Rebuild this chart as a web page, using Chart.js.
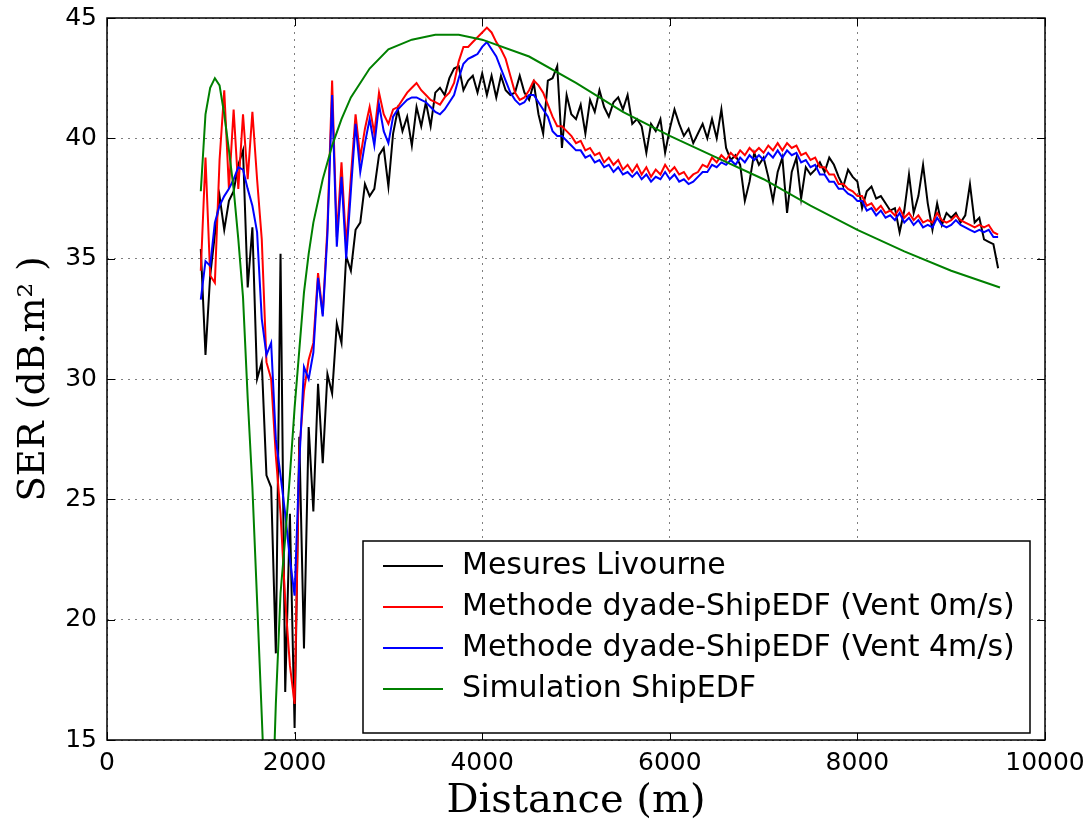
<!DOCTYPE html>
<html>
<head>
<meta charset="utf-8">
<title>SER vs Distance</title>
<script src="https://cdn.jsdelivr.net/npm/chart.js@4.4.0/dist/chart.umd.min.js"></script>
<style>
  html, body { margin: 0; padding: 0; background: #fff; }
</style>
</head>
<body>
<canvas id="serChart" width="1088" height="827"></canvas>
<script>
// distances (m) of the measured / computed series, every 50 m
var distances = [
  1000, 1050, 1100, 1150, 1200, 1250, 1300, 1350, 1400, 1450,
  1500, 1550, 1600, 1650, 1700, 1750, 1800, 1850, 1900, 1950,
  2000, 2050, 2100, 2150, 2200, 2250, 2300, 2350, 2400, 2450,
  2500, 2550, 2600, 2650, 2700, 2750, 2800, 2850, 2900, 2950,
  3000, 3050, 3100, 3150, 3200, 3250, 3300, 3350, 3400, 3450,
  3500, 3550, 3600, 3650, 3700, 3750, 3800, 3850, 3900, 3950,
  4000, 4050, 4100, 4150, 4200, 4250, 4300, 4350, 4400, 4450,
  4500, 4550, 4600, 4650, 4700, 4750, 4800, 4850, 4900, 4950,
  5000, 5050, 5100, 5150, 5200, 5250, 5300, 5350, 5400, 5450,
  5500, 5550, 5600, 5650, 5700, 5750, 5800, 5850, 5900, 5950,
  6000, 6050, 6100, 6150, 6200, 6250, 6300, 6350, 6400, 6450,
  6500, 6550, 6600, 6650, 6700, 6750, 6800, 6850, 6900, 6950,
  7000, 7050, 7100, 7150, 7200, 7250, 7300, 7350, 7400, 7450,
  7500, 7550, 7600, 7650, 7700, 7750, 7800, 7850, 7900, 7950,
  8000, 8050, 8100, 8150, 8200, 8250, 8300, 8350, 8400, 8450,
  8500, 8550, 8600, 8650, 8700, 8750, 8800, 8850, 8900, 8950,
  9000, 9050, 9100, 9150, 9200, 9250, 9300, 9350, 9400, 9450,
  9500
];

// Mesures Livourne (dB.m2)
var mesures = [
  35.4, 31.0, 34.3, 36.0, 37.6, 36.2, 37.4, 37.8, 38.9, 39.5,
  33.8, 36.3, 30.0, 30.7, 26.0, 25.5, 18.6, 35.2, 17.0, 24.4,
  15.5, 27.6, 18.8, 28.0, 24.5, 29.8, 26.5, 30.2, 29.4, 32.3,
  31.5, 35.1, 34.5, 36.2, 36.5, 38.1, 37.6, 37.9, 39.3, 39.6,
  38.0, 40.2, 41.2, 40.3, 40.9, 39.7, 41.3, 40.5, 41.5, 40.5,
  41.9, 42.1, 41.8, 42.5, 42.9, 43.0, 42.0, 42.4, 42.6, 41.9,
  42.7, 41.8, 42.6, 41.7, 42.6, 42.0, 41.8, 41.9, 42.6, 41.9,
  41.6, 42.3, 41.0, 40.2, 42.4, 42.5, 43.0, 39.6, 41.8, 41.0,
  40.8, 41.4, 40.2, 41.6, 41.1, 42.0, 41.3, 40.9, 41.5, 41.7,
  41.2, 41.8, 40.6, 40.8, 40.5, 39.4, 40.6, 40.3, 40.8, 39.4,
  40.4, 41.2, 40.6, 40.1, 40.4, 39.8, 40.2, 40.6, 40.0, 40.8,
  40.0, 41.2, 39.6, 39.1, 39.3, 38.9, 37.4, 38.2, 39.4, 38.9,
  39.2, 38.4, 37.4, 38.6, 39.2, 36.9, 38.6, 39.2, 37.5, 38.8,
  38.5, 38.7, 39.0, 38.6, 39.2, 38.9, 38.4, 38.0, 38.7, 38.4,
  38.2, 37.1, 37.8, 38.0, 37.5, 37.6, 37.3, 37.0, 37.1, 36.1,
  37.0, 38.5, 36.9, 37.6, 38.9, 37.3, 36.2, 37.3, 36.4, 36.9,
  36.7, 36.9, 36.5, 36.8, 38.1, 36.5, 36.7, 35.8, 35.7, 35.6,
  34.6
];

// Methode dyade-ShipEDF (Vent 0m/s)
var vent0 = [
  34.5, 39.2, 34.3, 34.0, 39.1, 42.0, 37.9, 41.2, 37.9, 41.0,
  38.3, 41.1, 38.3, 35.8, 30.7, 30.0, 26.8, 24.4, 20.8, 18.1,
  16.5, 27.0, 29.5, 30.8, 31.5, 34.4, 32.7, 36.3, 42.4, 35.9,
  39.0, 35.5, 38.4, 41.0, 39.2, 40.4, 41.3, 40.2, 41.9, 41.0,
  40.6, 41.2, 41.3, 41.6, 41.9, 42.1, 42.3, 42.0, 41.8, 41.6,
  41.5, 41.4, 41.7, 41.9, 42.3, 43.2, 43.8, 43.8, 44.0, 44.2,
  44.4, 44.6, 44.4, 44.0, 43.7, 43.3, 42.6, 41.9, 41.6, 41.7,
  42.0, 42.4, 42.2, 41.9, 41.4, 40.9, 40.5, 40.5, 40.3, 40.1,
  39.8, 39.9, 39.5, 39.6, 39.3, 39.4, 39.0, 39.2, 38.9, 39.1,
  38.7, 38.9, 38.6, 38.9, 38.5, 38.8, 38.4, 38.7, 38.5, 38.9,
  38.6, 38.8, 38.5, 38.6, 38.3, 38.5, 38.6, 38.9, 38.8, 39.2,
  39.0, 39.3, 39.1, 39.4, 39.2, 39.5, 39.3, 39.6, 39.4, 39.6,
  39.4, 39.7, 39.5, 39.8, 39.5, 39.8, 39.6, 39.7, 39.3, 39.4,
  39.1, 39.2, 38.8, 38.8, 38.5, 38.5, 38.1, 38.1, 37.9, 37.8,
  37.6, 37.6, 37.2, 37.3, 37.0, 37.2, 36.9, 37.0, 36.8, 37.1,
  36.7, 36.9, 36.6, 36.8, 36.5, 36.6, 36.5, 36.9, 36.6, 36.5,
  36.6, 36.8, 36.6, 36.5, 36.4, 36.3, 36.4, 36.3, 36.4, 36.1,
  36.0
];

// Methode dyade-ShipEDF (Vent 4m/s)
var vent4 = [
  33.3, 34.9, 34.7, 36.5, 37.2, 37.6, 37.9, 38.3, 38.8, 38.7,
  37.9, 37.2, 36.1, 32.5, 31.0, 31.5, 27.5, 26.0, 24.4, 22.5,
  21.0, 26.5, 30.5, 30.0, 31.1, 34.2, 32.6, 36.0, 41.8, 35.5,
  38.4, 35.0, 37.8, 40.6, 38.6, 39.8, 40.8, 39.7, 41.4, 40.3,
  39.8, 40.9, 41.2, 41.4, 41.6, 41.7, 41.7, 41.6, 41.5, 41.3,
  41.1, 41.0, 41.2, 41.5, 41.8, 42.5, 43.1, 43.3, 43.4, 43.5,
  43.8, 44.0, 43.7, 43.4, 42.9, 42.4, 41.9, 41.6, 41.4, 41.5,
  41.8, 41.8, 41.5, 41.2, 40.9, 40.3, 40.1, 40.1, 39.9, 39.7,
  39.5, 39.5, 39.2, 39.3, 39.0, 39.1, 38.8, 38.9, 38.6, 38.8,
  38.5, 38.6, 38.4, 38.6, 38.3, 38.5, 38.2, 38.4, 38.3, 38.6,
  38.3, 38.5, 38.2, 38.3, 38.1, 38.2, 38.4, 38.6, 38.6, 38.9,
  38.8, 39.0, 38.9, 39.1, 38.9, 39.2, 39.0, 39.3, 39.1, 39.3,
  39.1, 39.4, 39.2, 39.5, 39.2, 39.5, 39.3, 39.4, 39.0, 39.1,
  38.8, 38.9, 38.5, 38.5, 38.2, 38.2, 37.9, 37.9, 37.7, 37.6,
  37.4, 37.4, 37.0, 37.1, 36.8, 37.0, 36.7, 36.8, 36.6, 36.9,
  36.5, 36.7, 36.4, 36.6, 36.3, 36.4, 36.3, 36.7, 36.4, 36.3,
  36.4, 36.6, 36.4, 36.3, 36.2, 36.1, 36.2, 36.1, 36.2, 35.9,
  35.9
];

// Simulation ShipEDF (smooth curve, own sampling)
var simDistances = [
  1000, 1050, 1100, 1150, 1200, 1250, 1300, 1350, 1400, 1450,
  1500, 1550, 1600, 1650, 1700, 1725, 1750, 1775, 1800, 1850,
  1900, 1950, 2000, 2050, 2100, 2150, 2200, 2300, 2400, 2500,
  2600, 2800, 3000, 3250, 3500, 3750, 4000, 4500, 5000, 5500,
  6000, 6500, 7000, 7500, 8000, 8500, 9000, 9520
];
var simulation = [
  37.8, 41.0, 42.1, 42.5, 42.2, 41.0, 39.5, 37.9, 35.8, 33.4,
  29.2, 25.5, 20.8, 16.0, 11.0, 9.0, 10.5, 13.5, 16.5, 21.1,
  23.4, 26.0, 28.8, 31.2, 33.6, 35.2, 36.5, 38.3, 39.7, 40.8,
  41.7, 42.9, 43.7, 44.1, 44.3, 44.3, 44.1, 43.4, 42.3, 41.1,
  40.1, 39.2, 38.3, 37.2, 36.2, 35.3, 34.5, 33.8
];

var seriesLabels = [
  "Mesures Livourne",
  "Methode dyade-ShipEDF (Vent 0m/s)",
  "Methode dyade-ShipEDF (Vent 4m/s)",
  "Simulation ShipEDF",
];

var xTicks = [0, 2000, 4000, 6000, 8000, 10000];
var yTicks = [15, 20, 25, 30, 35, 40, 45];

function toPoints(xs, ys) {
  return ys.map(function (v, i) {
    return { x: xs[i], y: v };
  });
}

// cadre noir + petites graduations vers l'intérieur + légende en bas à droite
var framePlugin = {
  id: "frameAndLegend",
  afterDatasetsDraw: function (chart) {
    var ctx = chart.ctx;
    var area = chart.chartArea;
    var xs = chart.scales.x;
    var ys = chart.scales.y;
    ctx.save();

    ctx.strokeStyle = "#000";
    ctx.lineWidth = 1;
    xTicks.forEach(function (t) {
      var px = Math.round(xs.getPixelForValue(t)) + 0.5;
      ctx.beginPath();
      ctx.moveTo(px, area.bottom);
      ctx.lineTo(px, area.bottom - 8);
      ctx.moveTo(px, area.top);
      ctx.lineTo(px, area.top + 8);
      ctx.stroke();
    });
    yTicks.forEach(function (t) {
      var py = Math.round(ys.getPixelForValue(t)) + 0.5;
      ctx.beginPath();
      ctx.moveTo(area.left, py);
      ctx.lineTo(area.left + 8, py);
      ctx.moveTo(area.right, py);
      ctx.lineTo(area.right - 8, py);
      ctx.stroke();
    });

    ctx.lineWidth = 1.5;
    ctx.strokeRect(area.left, area.top, area.right - area.left, area.bottom - area.top);

    // légende
    var boxRight = area.right - 15;
    var boxBottom = area.bottom - 7;
    var boxW = 667;
    var boxH = 192;
    var boxLeft = boxRight - boxW;
    var boxTop = boxBottom - boxH;
    ctx.fillStyle = "#fff";
    ctx.fillRect(boxLeft, boxTop, boxW, boxH);
    ctx.strokeStyle = "#000";
    ctx.lineWidth = 1.5;
    ctx.strokeRect(boxLeft, boxTop, boxW, boxH);

    ctx.font = "30px 'DejaVu Sans'";
    ctx.textBaseline = "middle";
    ctx.textAlign = "left";
    chart.data.datasets.forEach(function (ds, i) {
      var rowY = boxTop + 25 + i * 41;
      ctx.strokeStyle = ds.borderColor;
      ctx.lineWidth = 2;
      ctx.beginPath();
      ctx.moveTo(boxLeft + 20, rowY);
      ctx.lineTo(boxLeft + 80, rowY);
      ctx.stroke();
      ctx.fillStyle = "#000";
      ctx.fillText(ds.label, boxLeft + 99, rowY);
    });

    ctx.restore();
  },
};

var tickFont = { family: "'DejaVu Sans'", size: 25 };
var gridColor = "rgba(0, 0, 0, 0.5)";

var ctx = document.getElementById("serChart").getContext("2d");
var serChart = new Chart(ctx, {
  type: "line",
  data: {
    datasets: [
      {
        label: seriesLabels[0],
        data: toPoints(distances, mesures),
        borderColor: "#000000",
        order: 4,
      },
      {
        label: seriesLabels[1],
        data: toPoints(distances, vent0),
        borderColor: "#ff0000",
        order: 3,
      },
      {
        label: seriesLabels[2],
        data: toPoints(distances, vent4),
        borderColor: "#0000ff",
        order: 2,
      },
      {
        label: seriesLabels[3],
        data: toPoints(simDistances, simulation),
        borderColor: "#008000",
        order: 1,
      },
    ],
  },
  options: {
    responsive: false,
    animation: false,
    devicePixelRatio: 1,
    layout: { padding: { left: 0, right: 43, top: 18, bottom: 0 } },
    elements: {
      point: { radius: 0 },
      line: { tension: 0, borderWidth: 2, fill: false },
    },
    plugins: {
      legend: { display: false },
      tooltip: { enabled: false },
    },
    scales: {
      x: {
        type: "linear",
        min: 0,
        max: 10000,
        afterBuildTicks: function (scale) {
          scale.ticks = xTicks.map(function (v) { return { value: v }; });
        },
        ticks: {
          font: tickFont,
          color: "#000",
          padding: 3,
          maxRotation: 0,
          autoSkip: false,
          callback: function (v) { return String(v); },
        },
        grid: { color: gridColor, lineWidth: 1, drawTicks: true, tickLength: 5, tickColor: "rgba(0,0,0,0)" },
        border: { display: false, dash: [2, 5] },
        title: {
          display: true,
          text: "Distance (m)",
          font: { family: "'DejaVu Serif'", size: 40, lineHeight: 1 },
          color: "#000",
          padding: { top: 0, bottom: 5 },
        },
        afterFit: function (scale) {
          scale.height = 87;
        },
      },
      y: {
        type: "linear",
        min: 15,
        max: 45,
        afterBuildTicks: function (scale) {
          scale.ticks = yTicks.map(function (v) { return { value: v }; });
        },
        ticks: {
          font: tickFont,
          color: "#000",
          padding: 3,
          callback: function (v) { return String(v); },
        },
        grid: { color: gridColor, lineWidth: 1, drawTicks: true, tickLength: 7, tickColor: "rgba(0,0,0,0)" },
        border: { display: false, dash: [2, 5] },
        title: {
          display: true,
          text: "SER (dB.m\u00B2 )",
          font: { family: "'DejaVu Serif'", size: 37, lineHeight: 1 },
          color: "#000",
          padding: { top: 16, bottom: 0 },
        },
        afterFit: function (scale) {
          scale.width = 107;
        },
      },
    },
  },
  plugins: [framePlugin],
});
</script>
</body>
</html>
